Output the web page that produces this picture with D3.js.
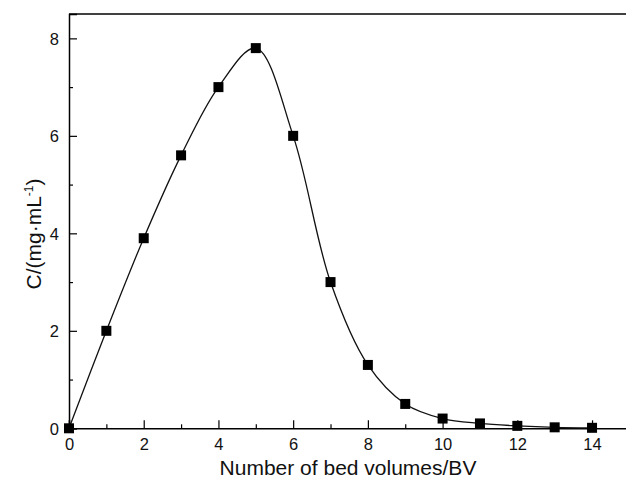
<!DOCTYPE html>
<html><head><meta charset="utf-8">
<script src="https://cdn.jsdelivr.net/npm/d3@7"></script>
<style>
html,body{margin:0;padding:0;background:#fff;}
svg{display:block;font-family:"Liberation Sans",Arial,sans-serif;}
</style></head>
<body>
<svg id="c" width="626" height="479"></svg>
<script>
const bedVolumes = [0,1,2,3,4,5,6,7,8,9,10,11,12,13,14];
const concentration = [0,2.0,3.9,5.6,7.0,7.8,6.0,3.0,1.3,0.5,0.2,0.1,0.05,0.02,0.01];
const xMajorTicks = [0,2,4,6,8,10,12,14];
const xMinorTicks = [1,3,5,7,9,11,13,15];
const yMajorTicks = [0,2,4,6,8];
const yMinorTicks = [1,3,5,7];
const xTitle = "Number of bed volumes/BV";

const svg = d3.select("#c");
const x = d3.scaleLinear().domain([0,15]).range([69,629.4]);
const y = d3.scaleLinear().domain([0,8.5]).range([428.3,14]);

// frame
svg.append("line").attr("x1",x(0)).attr("x2",x(15)).attr("y1",y(8.5)).attr("y2",y(8.5))
  .attr("stroke","#000").attr("stroke-width",1.5);
svg.append("line").attr("x1",x(15)).attr("x2",x(15)).attr("y1",y(8.5)).attr("y2",y(0))
  .attr("stroke","#000").attr("stroke-width",1.5);

// x axis
const gx = svg.append("g").attr("transform",`translate(0,${y(0)})`);
gx.call(d3.axisBottom(x).tickValues(xMajorTicks).tickSize(-8).tickPadding(10).tickFormat(d3.format("d")));
const gxm = svg.append("g").attr("transform",`translate(0,${y(0)})`);
gxm.call(d3.axisBottom(x).tickValues(xMinorTicks).tickSize(-4).tickFormat(""));
gxm.select(".domain").remove();

// y axis
const gy = svg.append("g").attr("transform",`translate(${x(0)},0)`);
gy.call(d3.axisLeft(y).tickValues(yMajorTicks).tickSize(-8).tickPadding(10).tickFormat(d3.format("d")));
const gym = svg.append("g").attr("transform",`translate(${x(0)},0)`);
gym.call(d3.axisLeft(y).tickValues(yMinorTicks).tickSize(-4).tickFormat(""));
gym.select(".domain").remove();

svg.selectAll(".domain").attr("stroke","#000").attr("stroke-width",1.5);
svg.selectAll(".tick line").attr("stroke","#000").attr("stroke-width",1.2);
svg.selectAll(".tick text").attr("font-size",16.5).attr("fill","#111")
  .attr("font-family","'Liberation Sans',Arial,sans-serif");
gy.selectAll(".tick text").attr("dy","0.36em");

// curve
const line = d3.line().x((d,i)=>x(bedVolumes[i])).y(d=>y(d)).curve(d3.curveCatmullRom.alpha(0.5));
svg.append("path").datum(concentration).attr("d",line)
  .attr("fill","none").attr("stroke","#111").attr("stroke-width",1.3);

// markers
const s = 10;
svg.append("g").selectAll("rect").data(concentration).join("rect")
  .attr("x",(d,i)=>x(bedVolumes[i])-s/2).attr("y",d=>y(d)-s/2)
  .attr("width",s).attr("height",s).attr("fill","#000");

// titles
svg.append("text").attr("x",348).attr("y",475).attr("text-anchor","middle")
  .attr("font-size",21).attr("fill","#111").text(xTitle);

const yt = svg.append("text").attr("transform","translate(41,234) rotate(-90)")
  .attr("text-anchor","middle").attr("font-size",21).attr("fill","#111");
yt.append("tspan").text("C/(mg·mL");
yt.append("tspan").attr("font-size",12).attr("dy",-8).text("-1");
yt.append("tspan").attr("dy",8).text(")");
</script>
</body></html>
